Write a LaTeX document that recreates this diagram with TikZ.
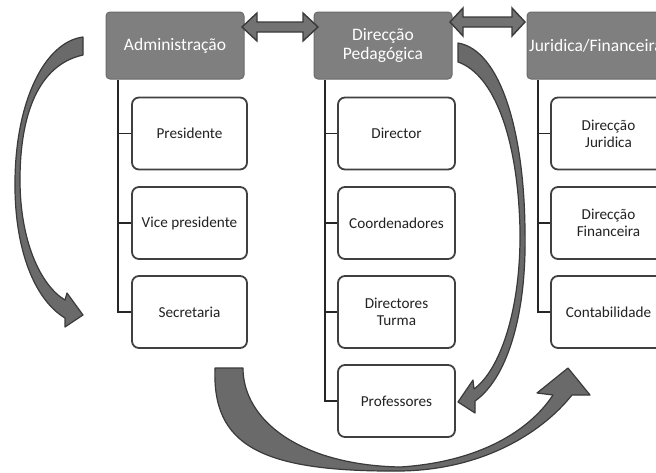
\documentclass[tikz,border=0pt]{standalone}
\usepackage{fontspec}
\setmainfont{Carlito}
\usetikzlibrary{calc}
\definecolor{topfill}{HTML}{7F7F7F}
\definecolor{topdraw}{HTML}{6A6A6A}
\definecolor{boxdraw}{HTML}{404040}
\definecolor{linecol}{HTML}{262626}
\definecolor{arrfill}{HTML}{6A6A6A}
\definecolor{arrdraw}{HTML}{3A3A3A}
\definecolor{txt}{HTML}{222222}
\tikzset{
  topbox/.style={rectangle, rounded corners=4pt, fill=topfill, draw=topdraw, line width=1pt,
    minimum width=138pt, minimum height=67pt, inner sep=0pt, text=white, align=center,
    font=\fontsize{17.5}{18.5}\selectfont},
  childbox/.style={rectangle, rounded corners=7pt, fill=white, draw=boxdraw, line width=1.8pt,
    minimum width=115pt, minimum height=72pt, inner sep=0pt, text=txt, align=center,
    font=\fontsize{15.2}{16.8}\selectfont},
  tree/.style={draw=linecol, line width=1.8pt},
  bigarrow/.style={fill=arrfill, draw=arrdraw, line width=1.2pt, line join=round},
  dblarrow/.style={fill=topfill!90!black, draw=arrdraw, line width=1.4pt, line join=miter}
}
\begin{document}
\begin{tikzpicture}[x=1pt,y=-1pt]
\useasboundingbox (0,0) rectangle (656,472);
\clip (0,0) rectangle (656,472);

% top boxes
\node[topbox] (adm) at (175,45.5) {Administração};
\node[topbox] (ped) at (383,45.5) {Direcção\\Pedagógica};
\node[topbox] (jur) at (596,45.5) {Juridica/Financeira};

% children
\node[childbox] (pres) at (189.5,133.5) {Presidente};
\node[childbox] (vice) at (189.5,223) {Vice presidente};
\node[childbox] (sec) at (189.5,312) {Secretaria};

\node[childbox, minimum width=117pt] (dir) at (396.5,133.5) {Director};
\node[childbox, minimum width=117pt] (coord) at (396.5,223) {Coordenadores};
\node[childbox, minimum width=117pt] (dturma) at (396.5,312) {Directores\\Turma};
\node[childbox, minimum width=117pt] (prof) at (396.5,401) {Professores};

\node[childbox] (djur) at (608.5,133.5) {Direcção\\Juridica};
\node[childbox] (dfin) at (608.5,223) {Direcção\\Financeira};
\node[childbox] (cont) at (608.5,312) {Contabilidade};

% tree connectors
\draw[tree] (adm.south -| 118,0) |- (sec.west);
\draw[tree] (118,0 |- pres.west) -- (pres.west);
\draw[tree] (118,0 |- vice.west) -- (vice.west);

\draw[tree] (ped.south -| 325,0) |- (prof.west);
\draw[tree] (325,0 |- dir.west) -- (dir.west);
\draw[tree] (325,0 |- coord.west) -- (coord.west);
\draw[tree] (325,0 |- dturma.west) -- (dturma.west);

\draw[tree] (jur.south -| 538,0) |- (cont.west);
\draw[tree] (538,0 |- djur.west) -- (djur.west);
\draw[tree] (538,0 |- dfin.west) -- (dfin.west);

% double arrows between top boxes
\coordinate (d1) at (242,27);
\draw[dblarrow] (d1) -- ++(15,-14) -- ++(0,9) -- ++(46,0) -- ++(0,-9) -- ++(15,14)
  -- ++(-15,14) -- ++(0,-9) -- ++(-46,0) -- ++(0,9) -- cycle;
\coordinate (d2) at (450,22);
\draw[dblarrow] (d2) -- ++(13,-14) -- ++(0,9) -- ++(49,0) -- ++(0,-9) -- ++(13,14)
  -- ++(-13,14) -- ++(0,-9) -- ++(-49,0) -- ++(0,9) -- cycle;

% left curved arrow
\draw[bigarrow] (83,37) .. controls (45,42) and (16,100) .. (15,180)
  .. controls (14,250) and (35,300) .. (65,318) -- (65,327) -- (83,315) -- (67,293) -- (65,300)
  .. controls (40,285) and (20,240) .. (20,180)
  .. controls (20,115) and (38,65) .. (83,55) -- cycle;

% middle curved arrow
\draw[bigarrow] (458,43) .. controls (500,50) and (524,130) .. (525,230)
  .. controls (527,320) and (505,380) .. (475,401) -- (475,413) -- (458,402) -- (473,380) -- (474,389)
  .. controls (500,370) and (521,310) .. (520,230)
  .. controls (518,140) and (495,75) .. (458,62) -- cycle;

% bottom curved arrow
\draw[bigarrow] (215,368) .. controls (212,445) and (260,472) .. (400,471)
  .. controls (480,470) and (540,435) .. (572,395) -- (590,395) -- (568,368) -- (537,393) -- (553,395)
  .. controls (530,430) and (480,462) .. (400,467)
  .. controls (300,465) and (243,420) .. (243,368) -- cycle;
\end{tikzpicture}
\end{document}
